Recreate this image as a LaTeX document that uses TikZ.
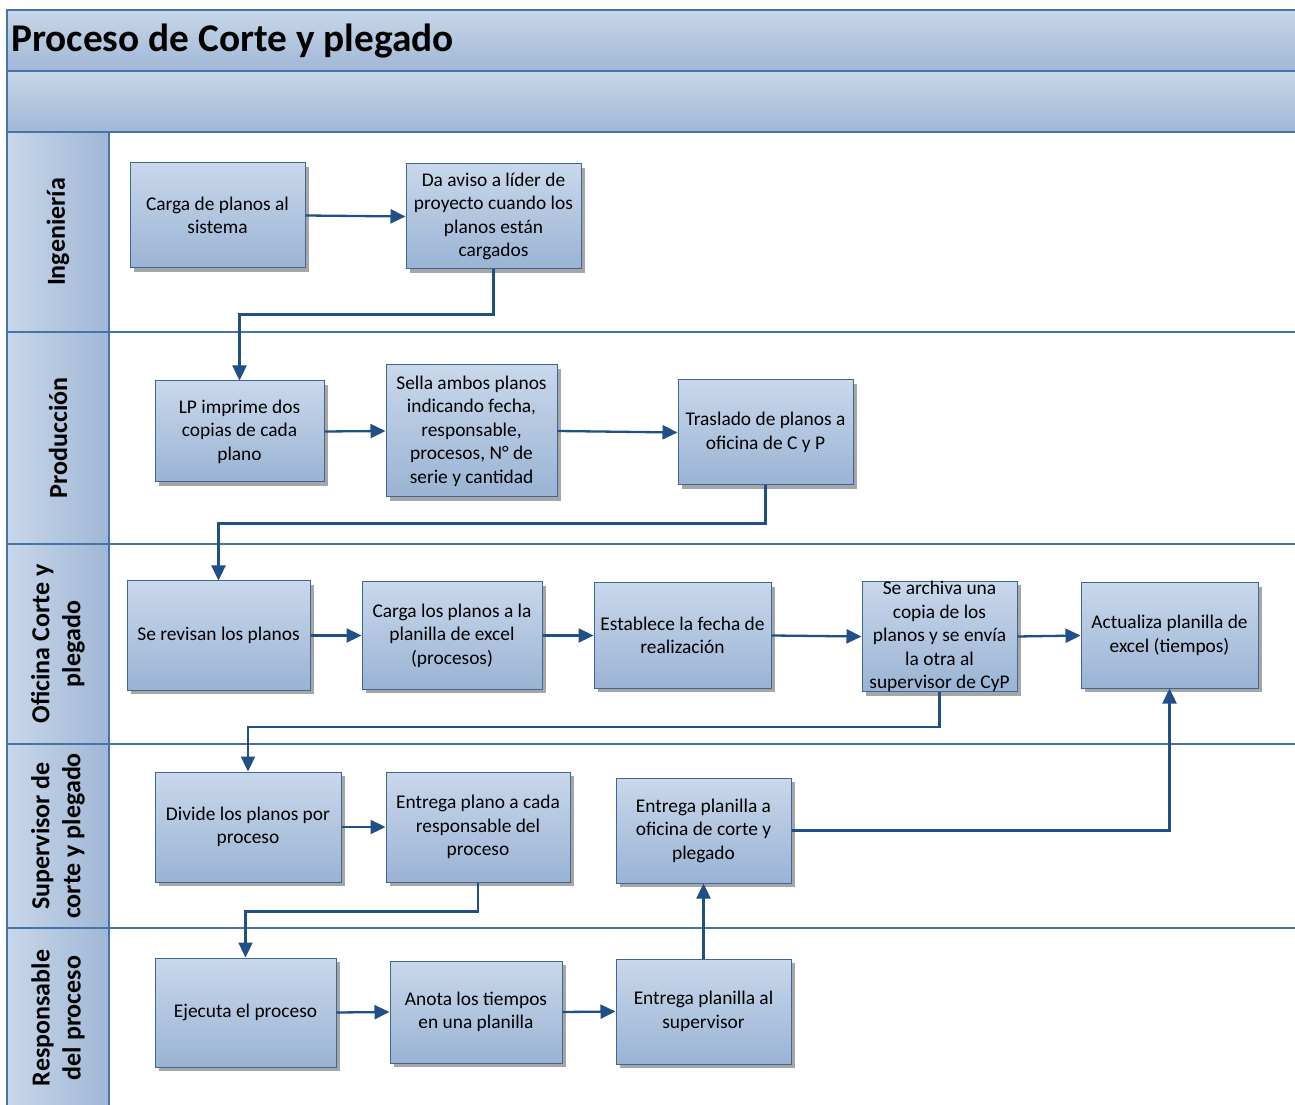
\documentclass[tikz,border=0pt]{standalone}
\usepackage{fontspec}
\setmainfont{Carlito}
\usetikzlibrary{shadows,arrows.meta}
\definecolor{bxtop}{HTML}{C9D8EB}
\definecolor{bxbot}{HTML}{9AB3D4}
\definecolor{bxline}{HTML}{3C6898}
\definecolor{arr}{HTML}{214F87}
\definecolor{bandtop}{HTML}{C8D7E9}
\definecolor{bandbot}{HTML}{A0B7D6}
\definecolor{lanecol}{HTML}{4674A6}
\begin{document}
\begin{tikzpicture}[x=1pt,y=1pt,
  proc/.style={draw=bxline, line width=1pt, top color=bxtop, bottom color=bxbot,
    align=center, font=\fontsize{19.4}{23.5}\selectfont, inner sep=2pt,
    drop shadow={shadow xshift=4pt, shadow yshift=-4pt, fill=black!35, opacity=1}},
  flow/.style={draw=arr, line width=2.3pt, -{Triangle[length=15pt,width=14pt]}},
  lanelbl/.style={rotate=90, align=center, font=\bfseries\fontsize{26}{31}\selectfont},
  laneline/.style={draw=lanecol, line width=1.1pt}]
\useasboundingbox (0,0) rectangle (1295,1104);
\clip (0,0) rectangle (1295,1104);
% bands
\shade[top color=bandtop, bottom color=bandbot] (7,1094) rectangle (1300,1033);
\shade[top color=bandtop, bottom color=bandbot] (7,1033) rectangle (1300,972);
\shade[left color=bandtop, right color=bandbot] (7,972) rectangle (109,-5);
\draw[laneline] (7,-5) rectangle (1300,1094);
\foreach \yy in {1033,972,772,560,360,176} \draw[laneline] (7,\yy) -- (1300,\yy);
\draw[laneline] (109,972) -- (109,-5);
% title
\node[anchor=base west, font=\bfseries\fontsize{39.3}{45}\selectfont, inner sep=0pt] (title) at (11,1052) {Proceso de Corte y plegado};
% lane labels
\node[lanelbl] (l1) at (58,872) {Ingeniería};
\node[lanelbl] (l2) at (58,666) {Producción};
\node[lanelbl] (l3) at (58,460) {Oficina Corte y\\plegado};
\node[lanelbl] (l4) at (58,268) {Supervisor de\\corte y plegado};
\node[lanelbl] (l5) at (58,86) {Responsable\\del proceso};
% boxes
\node[proc, minimum width=175pt, minimum height=105pt] (A1) at (217.5,888.5) {Carga de planos al\\sistema};
\node[proc, minimum width=175pt, minimum height=105pt] (A2) at (493.5,887.5) {Da aviso a líder de\\proyecto cuando los\\planos están\\cargados};
\node[proc, minimum width=169pt, minimum height=101pt] (B1) at (239.5,672.5) {LP imprime dos\\copias de cada\\plano};
\node[proc, minimum width=171pt, minimum height=132pt] (B2) at (471.5,673) {Sella ambos planos\\indicando fecha,\\responsable,\\procesos, N° de\\serie y cantidad};
\node[proc, minimum width=175pt, minimum height=105pt] (B3) at (765.5,671.5) {Traslado de planos a\\oficina de C y P};
\node[proc, minimum width=183pt, minimum height=109pt] (C1) at (218.5,468.5) {Se revisan los planos};
\node[proc, minimum width=180pt, minimum height=107pt] (C2) at (452,468.5) {Carga los planos a la\\planilla de excel\\(procesos)};
\node[proc, minimum width=177pt, minimum height=105pt] (C3) at (682.5,468.5) {Establece la fecha de\\realización};
\node[proc, minimum width=155pt, minimum height=107pt, inner sep=0pt] (C4) at (939.5,467.5) {Se archiva una\\copia de los\\planos y se envía\\la otra al\\supervisor de CyP};
\node[proc, minimum width=177pt, minimum height=105pt] (C5) at (1169.5,468.5) {Actualiza planilla de\\excel (tiempos)};
\node[proc, minimum width=186pt, minimum height=110pt] (D1) at (248,277) {Divide los planos por\\proceso};
\node[proc, minimum width=184pt, minimum height=110pt] (D2) at (478,277) {Entrega plano a cada\\responsable del\\proceso};
\node[proc, minimum width=175pt, minimum height=105pt] (D3) at (703.5,273.5) {Entrega planilla a\\oficina de corte y\\plegado};
\node[proc, minimum width=181pt, minimum height=109pt] (E1) at (245.5,91.5) {Ejecuta el proceso};
\node[proc, minimum width=172pt, minimum height=102pt] (E2) at (476,92) {Anota los tiempos\\en una planilla};
\node[proc, minimum width=175pt, minimum height=105pt] (E3) at (703.5,92.5) {Entrega planilla al\\supervisor};
% connectors
\draw[flow] (A1.east) -- (A2.west);
\draw[flow] (A2.south) -- ++(0,-45) -| (B1.north);
\draw[flow] (B1.east) -- (B2.west);
\draw[flow] (B2.east) -- (B3.west);
\draw[flow] (B3.south) -- ++(0,-38) -| (C1.north);
\draw[flow] (C1.east) -- (C2.west);
\draw[flow] (C2.east) -- (C3.west);
\draw[flow] (C3.east) -- (C4.west);
\draw[flow] (C4.east) -- (C5.west);
\draw[flow] (C4.south) -- ++(0,-35) -| (D1.north);
\draw[flow] (D1.east) -- (D2.west);
\draw[flow] (D2.south) -- ++(0,-29) -| (E1.north);
\draw[flow] (E1.east) -- (E2.west);
\draw[flow] (E2.east) -- (E3.west);
\draw[flow] (E3.north) -- (D3.south);
\draw[flow] (D3.east) -| (C5.south);
\end{tikzpicture}
\end{document}
